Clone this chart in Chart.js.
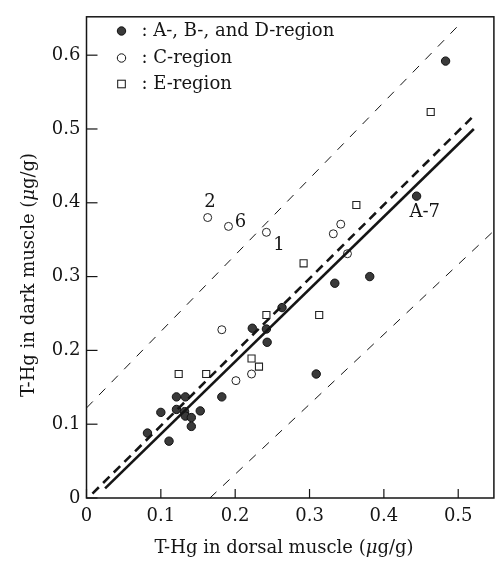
<!DOCTYPE html>
<html><head><meta charset="utf-8">
<script src="https://cdn.jsdelivr.net/npm/chart.js@4/dist/chart.umd.min.js"></script>
<style>html,body{margin:0;padding:0;background:#fff}#wrap{width:500px;height:566px;position:relative}</style>
</head><body><div id="wrap"><canvas id="c" width="500" height="566"></canvas></div>
<script>
// ---- data ----
const xTicks = [0, 0.1, 0.2, 0.3, 0.4, 0.5];
const xTickLabels = ['0', '0.1', '0.2', '0.3', '0.4', '0.5'];
const yTicks = [0, 0.1, 0.2, 0.3, 0.4, 0.5, 0.6];
const yTickLabels = ['0', '0.1', '0.2', '0.3', '0.4', '0.5', '0.6'];

const abdX = [0.082, 0.100, 0.111, 0.121, 0.121, 0.133, 0.132, 0.133, 0.141, 0.141, 0.153, 0.182, 0.223, 0.242, 0.243, 0.263, 0.309, 0.334, 0.381, 0.444, 0.483];
const abdY = [0.088, 0.116, 0.077, 0.137, 0.120, 0.137, 0.117, 0.111, 0.109, 0.097, 0.118, 0.137, 0.230, 0.229, 0.211, 0.258, 0.168, 0.291, 0.300, 0.409, 0.592];

const cX = [0.163, 0.191, 0.242, 0.332, 0.342, 0.351, 0.182, 0.201, 0.222];
const cY = [0.380, 0.368, 0.360, 0.358, 0.371, 0.331, 0.228, 0.159, 0.168];

const eX = [0.124, 0.161, 0.222, 0.232, 0.242, 0.292, 0.313, 0.363, 0.463];
const eY = [0.168, 0.168, 0.189, 0.178, 0.248, 0.318, 0.248, 0.397, 0.523];

const regLineX = [0.025, 0.521];
const regLineY = [0.013, 0.500];
const idLineX = [0.008, 0.518];
const idLineY = [0.006, 0.515];
const upperBandX = [0.0, 0.500];
const upperBandY = [0.122, 0.640];
const lowerBandX = [0.166, 0.548];
const lowerBandY = [0.0, 0.362];

const legendLabels = [': A-, B-, and D-region', ': C-region', ': E-region'];
const pointLabels = ['2', '6', '1', 'A-7'];
const pointLabelX = [0.166, 0.207, 0.259, 0.455];
const pointLabelY = [0.400, 0.373, 0.342, 0.387];

const xTitleParts = ['T-Hg in dorsal muscle (', '\u03bc', 'g/g)'];
const yTitleParts = ['T-Hg in dark muscle (', '\u03bc', 'g/g)'];

// ---- build ----
const pts = (xs, ys) => xs.map((x, i) => ({x, y: ys[i]}));
const FONT = '"DejaVu Serif", "Liberation Serif", serif';
const INK = '#151515';

function drawParts(ctx, parts, cx, cy, size) {
  const fonts = [size + 'px ' + FONT, 'italic ' + size + 'px ' + FONT, size + 'px ' + FONT];
  let w = 0;
  const ws = parts.map((p, i) => { ctx.font = fonts[i]; const m = ctx.measureText(p).width; w += m; return m; });
  let x = cx - w / 2;
  ctx.textAlign = 'left';
  parts.forEach((p, i) => { ctx.font = fonts[i]; ctx.fillText(p, x, cy); x += ws[i]; });
}

const deco = {
  id: 'deco',
  afterDatasetsDraw(chart) {
    const ctx = chart.ctx, a = chart.chartArea;
    const xs = chart.scales.x, ys = chart.scales.y;
    ctx.save();
    ctx.strokeStyle = INK;
    ctx.lineWidth = 1.5;
    ctx.strokeRect(a.left, a.top, a.right - a.left, a.bottom - a.top);
    ctx.lineWidth = 1.2;
    xTicks.forEach(v => {
      const p = xs.getPixelForValue(v);
      ctx.beginPath(); ctx.moveTo(p, a.bottom); ctx.lineTo(p, a.bottom - 9); ctx.stroke();
    });
    yTicks.forEach(v => {
      const p = ys.getPixelForValue(v);
      ctx.beginPath(); ctx.moveTo(a.left, p); ctx.lineTo(a.left + 11, p); ctx.stroke();
    });
    // legend
    const lx = a.left + 35, rows = [31, 58, 84];
    ctx.lineWidth = 1;
    ctx.beginPath(); ctx.arc(lx, rows[0], 4.2, 0, Math.PI * 2); ctx.fillStyle = '#3a3a3a'; ctx.fill(); ctx.strokeStyle = '#111'; ctx.stroke();
    ctx.beginPath(); ctx.arc(lx, rows[1], 4.2, 0, Math.PI * 2); ctx.fillStyle = '#fff'; ctx.fill(); ctx.stroke();
    ctx.fillStyle = '#fff'; ctx.fillRect(lx - 3.8, rows[2] - 3.8, 7.6, 7.6); ctx.strokeRect(lx - 3.8, rows[2] - 3.8, 7.6, 7.6);
    ctx.fillStyle = INK;
    ctx.font = '18px ' + FONT;
    ctx.textBaseline = 'middle';
    ctx.textAlign = 'left';
    legendLabels.forEach((t, i) => ctx.fillText(t, lx + 20, rows[i]));
    // point annotations
    ctx.font = '18px ' + FONT;
    ctx.textAlign = 'center';
    pointLabels.forEach((t, i) => {
      ctx.fillText(t, xs.getPixelForValue(pointLabelX[i]), ys.getPixelForValue(pointLabelY[i]));
    });
    // axis titles
    drawParts(ctx, xTitleParts, 284, 548, 18);
    ctx.save();
    ctx.translate(29, 275);
    ctx.rotate(-Math.PI / 2);
    drawParts(ctx, yTitleParts, 0, 0, 18);
    ctx.restore();
    ctx.restore();
  }
};

new Chart(document.getElementById('c'), {
  type: 'scatter',
  data: {
    datasets: [
      {label: 'reg', data: pts(regLineX, regLineY), showLine: true, borderColor: INK, borderWidth: 2.6, pointRadius: 0, fill: false},
      {label: 'id', data: pts(idLineX, idLineY), showLine: true, borderColor: INK, borderWidth: 2.6, borderDash: [9, 6], pointRadius: 0, fill: false},
      {label: 'upper', data: pts(upperBandX, upperBandY), showLine: true, borderColor: INK, borderWidth: 1, borderDash: [9, 9], pointRadius: 0, fill: false},
      {label: 'lower', data: pts(lowerBandX, lowerBandY), showLine: true, borderColor: INK, borderWidth: 1, borderDash: [9, 9], pointRadius: 0, fill: false},
      {label: 'A-, B-, and D-region', data: pts(abdX, abdY), pointStyle: 'circle', pointRadius: 4.2, backgroundColor: '#3a3a3a', borderColor: '#111', borderWidth: 1},
      {label: 'C-region', data: pts(cX, cY), pointStyle: 'circle', pointRadius: 4, backgroundColor: '#fff', borderColor: '#222', borderWidth: 1},
      {label: 'E-region', data: pts(eX, eY), pointStyle: 'rect', pointRadius: 5, backgroundColor: '#fff', borderColor: '#222', borderWidth: 1.1}
    ]
  },
  options: {
    responsive: false,
    animation: false,
    events: [],
    layout: {padding: {top: 9, left: 0, right: 0, bottom: 0}},
    plugins: {legend: {display: false}, tooltip: {enabled: false}},
    scales: {
      x: {
        type: 'linear', position: 'bottom', min: 0, max: 0.548,
        afterBuildTicks: s => { s.ticks = xTicks.map(v => ({value: v})); },
        afterFit: s => { s.height = 68; },
        ticks: {callback: (v, i) => xTickLabels[i], font: {family: FONT, size: 18}, color: INK, padding: 8, maxRotation: 0, autoSkip: false},
        grid: {display: false, drawTicks: false},
        border: {display: false}
      },
      y: {
        type: 'linear', min: 0, max: 0.652,
        afterBuildTicks: s => { s.ticks = yTicks.map(v => ({value: v})); },
        afterFit: s => { s.width = 86.5; },
        ticks: {callback: (v, i) => yTickLabels[i], font: {family: FONT, size: 18}, color: INK, padding: 6, autoSkip: false},
        grid: {display: false, drawTicks: false},
        border: {display: false}
      }
    }
  },
  plugins: [deco]
});
</script></body></html>
